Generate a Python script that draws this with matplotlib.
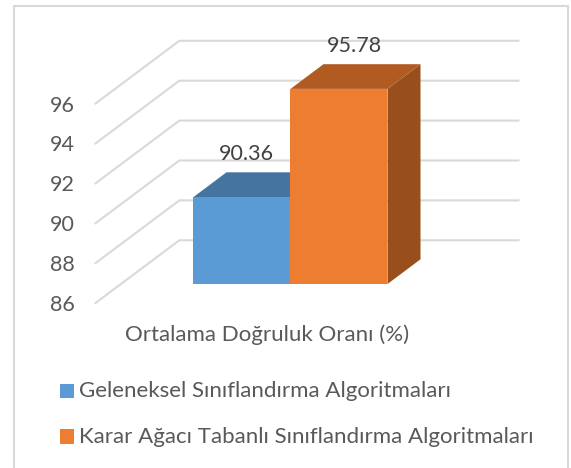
import matplotlib
matplotlib.use('Agg')
import matplotlib.pyplot as plt
from matplotlib.patches import Polygon, Rectangle

plt.rcParams['font.family'] = ['Lato', 'DejaVu Sans']

series_names = ['Geleneksel Sınıflandırma Algoritmaları',
                'Karar Ağacı Tabanlı Sınıflandırma Algoritmaları']
values = [90.36, 95.78]
ticks = [86, 88, 90, 92, 94, 96]
axis_title = 'Ortalama Doğruluk Oranı (%)'

front = ['#5b9bd5', '#ed7d31']
top = ['#4674a0', '#b15b23']
side = ['#44729d', '#994f1b']
grid_col = '#d9d9d9'
text_col = '#595959'

W, H = 571, 468
fig = plt.figure(figsize=(W / 100, H / 100), dpi=100)
ax = fig.add_axes([0, 0, 1, 1])

# x in bar widths, y in chart value, same plane as the bar fronts
px_x = 97.0
px_y = 19.95
x0 = 193.5
ax.set_xlim((0 - x0) / px_x, (W - x0) / px_x)
ax.set_ylim(86 - (H - 284) / px_y, 86 + 284 / px_y)
ax.axis('off')

dx = 33 / px_x
dy = 24.7 / px_y


def pt(c, v, d=0.0):
    # oblique projection, d is depth in bar depths
    return (c + d * dx, v + d * dy)


def fx(px):
    return (px - x0) / px_x


def fy(py):
    return 86 + (284 - py) / px_y


# chart frame, the bottom edge is cut off in the original
ax.add_patch(Rectangle((fx(14), fy(480)), (568.5 - 14) / px_x, (480 - 6) / px_y,
                       fill=False, ec=grid_col, lw=1.5, zorder=1, clip_on=True))

# gridlines: floor/side wall and back wall
left, right = -0.748, 2.748
d0, d1 = -0.77, 1.77
for t in ticks:
    a = pt(left, t, d0)
    b = pt(left, t, d1)
    c = pt(right, t, d1)
    ax.plot([a[0], b[0], c[0]], [a[1], b[1], c[1]], color=grid_col, lw=1.5, zorder=2,
            solid_joinstyle='miter')
    ax.text(fx(74.5), a[1] - 0.1, str(t), ha='right', va='center', fontsize=15.5,
            color=text_col, zorder=6)

# 3d bars
for i, v in enumerate(values):
    z = 3 + i
    ax.add_patch(Polygon([pt(i + 1, 86), pt(i + 1, 86, 1), pt(i + 1, v, 1), pt(i + 1, v)],
                         fc=side[i], ec='none', zorder=z))
    ax.add_patch(Polygon([pt(i, v), pt(i + 1, v), pt(i + 1, v, 1), pt(i, v, 1)],
                         fc=top[i], ec='none', zorder=z))
    ax.add_patch(Rectangle((i, 86), 1, v - 86, fc=front[i], ec='none', zorder=z))

# value labels
ax.text(fx(246), fy(153.5), f'{values[0]:.2f}', ha='center', va='center', fontsize=15.5,
        color='#404040', zorder=6)
ax.text(fx(354), fy(46), f'{values[1]:.2f}', ha='center', va='center', fontsize=15.5,
        color='#404040', zorder=6)

ax.text(fx(267), fy(335), axis_title, ha='center', va='center', fontsize=16,
        color=text_col, zorder=6)

# legend by hand to get the stacked layout
for i, name in enumerate(series_names):
    yc = 391 + i * 45.5
    ax.add_patch(Rectangle((fx(60), fy(yc + 7)), 14 / px_x, 14 / px_y, fc=front[i], ec='none',
                           zorder=6))
    ax.text(fx(79.5), fy(yc), name, ha='left', va='center', fontsize=16,
            color=text_col, zorder=6)

fig.savefig('out.png', dpi=100, facecolor='white')
